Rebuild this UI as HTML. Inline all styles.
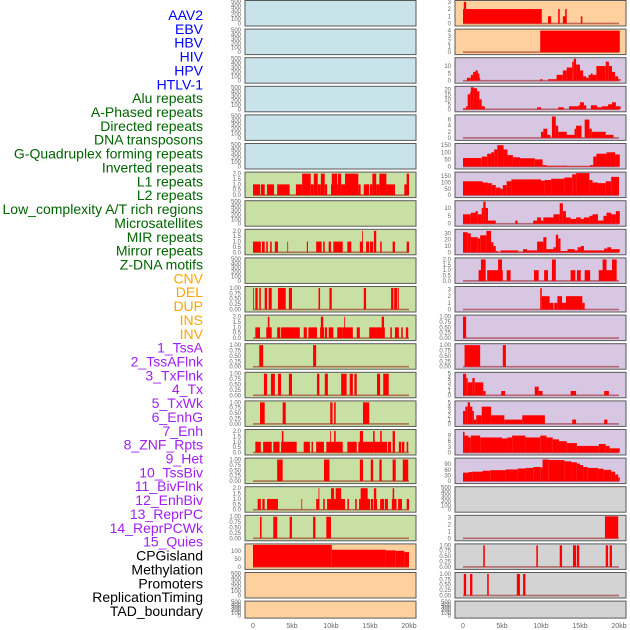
<!DOCTYPE html>
<html><head><meta charset="utf-8"><style>
html,body{margin:0;padding:0;background:#fff;}
svg{display:block;font-family:"Liberation Sans",sans-serif;}
</style></head><body>
<svg id="chart" width="630" height="630" viewBox="0 0 630 630" xmlns="http://www.w3.org/2000/svg"></svg>
<script>
// ---- labels ----
const trackLabels = ["AAV2","EBV","HBV","HIV","HPV","HTLV-1","Alu repeats","A-Phased repeats","Directed repeats","DNA transposons","G-Quadruplex forming repeats","Inverted repeats","L1 repeats","L2 repeats","Low_complexity A/T rich regions","Microsatellites","MIR repeats","Mirror repeats","Z-DNA motifs","CNV","DEL","DUP","INS","INV","1_TssA","2_TssAFlnk","3_TxFlnk","4_Tx","5_TxWk","6_EnhG","7_Enh","8_ZNF_Rpts","9_Het","10_TssBiv","11_BivFlnk","12_EnhBiv","13_ReprPC","14_ReprPCWk","15_Quies","CPGisland","Methylation","Promoters","ReplicationTiming","TAD_boundary"];
const labelGroups = ["v","v","v","v","v","v","r","r","r","r","r","r","r","r","r","r","r","r","r","c","c","c","c","c","s","s","s","s","s","s","s","s","s","s","s","s","s","s","s","o","o","o","o","o"];
const xTickLabels = ["0","5kb","10kb","15kb","20kb"];
const xTickValues = [0,5,10,15,20];

// ---- per-panel y ranges ----
const panelMax = [500,500,500,500,500,500,2.05,500,2.05,500,1.02,2.05,1.02,1.02,1.02,2.05,1.02,2.05,1.02,137,500,500,
 3.05,4.1,15,22,7.2,155,175,14,35,2.05,3.3,1.02,1.02,5.1,5.1,11.7,117,500,3.2,1.02,1.02,500];
const T500=[0,100,200,300,400,500], T2=[0,0.5,1,1.5,2], T1=[0,0.25,0.5,0.75,1];
const panelTicks = [T500,T500,T500,T500,T500,T500,T2,T500,T2,T500,T1,T2,T1,T1,T1,T2,T1,T2,T1,[0,50,100],T500,T500,
 [0,1,2,3],[0,1,2,3,4],[0,5,10],[0,5,10,15,20],[0,2,4,6],[0,50,100,150],[0,50,100,150],[0,5,10],[0,10,20,30],T2,[0,1,2,3],T1,T1,[0,1,2,3,4,5],[0,1,2,3,4,5],[0,3,6,9],[0,30,60,90],T500,[0,1,2,3],T1,T1,T500];

// ---- series: [startKb, endKb, value] ----
const alu = [[0,0.9,1],[1.0,1.5,1],[1.8,2.7,1],[3.1,4.7,1],[5.5,6.3,1],[6.3,7.4,2],[7.4,7.8,1],[7.8,8.3,2],[8.3,8.7,1],[8.7,9.2,2],[9.2,9.5,1],[10.0,10.8,1],[10.1,10.8,2],[10.8,11.3,1],[10.9,11.3,2],[11.3,11.8,1],[11.8,13.5,2],[13.5,13.8,1],[14.2,14.9,1],[15.0,15.3,1],[15.3,15.8,2],[15.8,16.2,1],[16.2,17.1,2],[17.1,18.2,1],[19.4,20.0,1],[19.7,20.0,2]];
const directed = [[0,1.0,1],[1.15,1.5,1],[1.7,1.9,1],[2.2,2.4,1],[2.8,3.2,1],[4.4,4.5,1],[6.9,7.05,1],[8.1,8.8,1],[9.0,9.2,1],[9.7,10.0,1],[10.3,11.5,1],[12.1,12.6,1],[13.7,14.1,1],[14.0,14.1,2],[14.5,14.9,1],[15.0,15.4,1],[15.5,15.8,2],[16.3,16.5,1],[17.9,18.2,1],[19.7,20.0,1]];
const gquad = [[0,0.1,1],[0.3,0.6,1],[0.8,1.0,1],[1.5,1.8,1],[2.0,2.4,1],[3.2,4.2,1],[4.6,5.0,1],[8.4,8.6,1],[9.8,10.1,1],[14.2,14.5,1],[17.7,18.0,1],[18.1,18.5,1],[18.6,18.7,1]];
const inverted = [[0.3,0.9,1],[1.7,2.4,1],[1.9,2.1,2],[3.1,3.5,1],[3.6,6.0,1],[6.5,6.9,1],[7.1,8.2,1],[8.6,9.1,1],[8.7,9.0,2],[9.2,9.5,1],[9.7,10.3,1],[10.8,11.5,1],[11.5,12.8,1],[11.7,11.8,2],[13.3,13.7,1],[14.9,15.9,1],[15.9,16.5,1],[16.5,16.9,1],[16.5,16.8,2],[17.6,17.8,1],[18.2,18.7,1],[19.0,19.2,1],[19.6,19.9,1]];
const l1 = [[0.8,1.3,1],[7.7,8.1,1]];
const l2 = [[1.4,1.8,1],[2.3,2.8,1],[3.2,3.6,1],[4.6,5.0,1],[8.2,8.5,1],[9.2,9.6,1],[11.3,12.0,1],[12.4,12.8,1],[13.0,13.3,1],[15.9,16.3,1],[16.7,17.4,1]];
const lowComplex = [[0.9,1.5,1],[3.8,4.2,1],[9.9,10.2,1],[10.4,10.6,1],[14.1,14.9,1]];
const microsat = [[0.3,1.0,1],[1.3,2.4,1],[2.6,3.4,1],[3.6,5.6,1],[3.7,3.9,2],[6.5,7.3,1],[7.5,7.7,1],[8.1,9.1,1],[9.4,11.5,1],[9.9,10.0,2],[10.4,10.6,2],[12.1,13.3,1],[13.5,15.4,1],[13.7,14.1,2],[15.4,15.6,2],[15.5,17.2,1],[16.3,16.5,2],[17.3,17.7,1],[17.9,18.2,2],[18.7,19.0,1],[19.1,19.4,1],[19.7,19.9,1]];
const mir = [[3.1,3.8,1],[9.1,9.8,1],[13.7,14.1,1],[15.1,15.4,1],[16.2,16.5,1],[17.9,18.3,1],[19.2,19.9,1]];
const mirror = [[0.6,1.0,1],[1.2,1.5,1],[1.8,3.2,1],[6.2,6.3,1],[8.1,8.5,1],[8.4,8.5,2],[9.0,9.2,1],[9.5,11.8,1],[10.0,10.4,2],[10.6,11.3,2],[12.1,12.3,1],[13.1,13.3,1],[13.6,15.0,1],[13.8,14.7,2],[15.1,15.4,1],[15.5,15.9,1],[15.5,15.8,2],[16.3,16.8,1],[16.9,17.3,1],[17.8,18.4,1],[17.9,18.1,2],[18.6,19.1,1],[19.7,20.0,1]];
const zdna = [[0.9,1.1,1],[2.6,3.1,1],[4.7,5.0,1],[7.7,8.0,1],[9.4,10.0,1]];
const cnv = [[0,10.1,137],[10.1,17.0,107],[17.0,18.3,103],[18.3,19.4,100],[19.4,20.0,92]];
const ins = [[0,10.1,2],[0.1,0.4,3],[10.9,11.3,1],[12.2,12.4,2],[12.8,13.2,1],[13.1,13.3,2],[15.1,15.3,1]];
const inv = [[9.9,20.1,4]];
const tssA = [[0.5,1.0,2],[1.0,1.3,4],[1.3,1.6,6],[1.6,1.9,7],[1.9,2.1,5],[2.1,2.2,2],[9.9,10.2,1],[10.9,12.0,1],[12.0,12.8,4],[12.8,13.3,7],[13.3,14.0,9],[14.0,14.2,13],[14.2,14.5,15],[14.5,15.0,11],[15.0,15.4,7],[15.4,15.8,3],[15.8,16.1,2],[16.1,16.4,4],[16.4,16.6,5],[16.6,17.1,4],[17.1,18.3,10],[18.3,18.7,13],[18.7,19.1,10],[19.1,19.5,6],[19.5,19.9,3],[19.9,20.2,1]];
const tssAFlnk = [[0,0.4,1],[0.4,0.6,3],[0.6,0.9,15],[0.9,1.0,17],[1.0,1.4,22],[1.4,1.8,21],[1.8,2.1,18],[2.1,2.4,10],[2.4,2.8,3],[9.5,10.0,2],[12.2,12.9,2],[13.6,14.8,3],[14.8,15.0,4],[15.0,15.5,7],[15.5,15.8,4],[16.4,17.2,4],[17.2,17.8,2],[17.8,18.6,3],[18.6,19.1,5],[19.1,19.6,7],[19.6,20.2,3]];
const txFlnk = [[10.0,10.3,2],[10.3,10.8,3],[10.8,11.2,1],[11.4,11.9,7],[11.9,12.2,4],[12.2,13.3,2],[13.3,14.3,1],[14.3,14.5,3],[14.5,15.2,4],[15.6,16.2,6],[16.2,16.5,3],[16.5,18.3,2],[18.3,19.3,1]];
const tx = [[0,2.3,60],[2.3,2.4,55],[2.4,3.1,70],[3.1,3.6,90],[3.6,4.0,100],[4.0,4.4,120],[4.4,5.2,150],[5.2,5.7,120],[5.7,6.4,80],[6.4,7.3,65],[7.3,9.2,58],[9.2,10.2,50],[10.2,10.7,10],[10.7,13.3,5],[13.3,16.3,3],[16.3,16.7,10],[16.7,17.1,70],[17.1,18.4,90],[18.4,19.5,100],[19.5,20.1,85]];
const txWk = [[0,2.5,110],[2.5,3.2,100],[3.2,3.7,95],[3.7,4.2,80],[4.2,4.8,60],[4.8,5.1,50],[5.1,5.6,80],[5.6,6.2,110],[6.2,10.0,125],[10.0,10.5,115],[10.5,11.3,120],[11.3,13.0,130],[13.0,14.0,140],[14.0,14.5,165],[14.5,16.2,175],[16.2,16.6,120],[16.6,17.3,100],[17.3,18.3,95],[18.3,19.0,110],[19.0,20.0,145]];
const enhG = [[0,1.0,6],[1.0,1.6,7],[1.6,1.9,8],[1.9,2.4,6],[2.4,2.6,10],[2.6,2.9,14],[2.9,3.2,10],[3.2,4.2,2],[6.7,7.0,2],[9.0,9.5,2],[9.5,10.0,4],[10.0,10.3,2],[10.3,11.6,4],[11.6,12.4,6],[12.4,12.8,13],[12.8,13.2,8],[13.2,13.8,4],[13.8,14.5,3],[14.5,15.1,4],[15.1,15.5,3],[15.5,16.2,4],[16.2,16.6,5],[16.6,17.3,6],[17.3,18.0,2],[18.0,18.4,5],[18.4,19.0,7],[19.0,19.6,6],[19.6,20.1,8]];
const enh = [[0,0.6,32],[0.6,1.0,30],[1.0,1.9,24],[1.9,2.2,22],[2.2,3.0,27],[3.0,3.6,34],[3.6,3.9,16],[3.9,4.2,10],[4.2,4.5,2],[4.8,7.1,3],[7.1,7.7,1],[7.7,8.2,5],[8.2,9.5,3],[9.5,10.3,17],[10.3,10.7,24],[10.7,11.6,5],[11.6,11.9,8],[11.9,12.2,28],[12.2,12.5,22],[12.5,13.4,2],[13.4,14.3,5],[14.3,14.7,3],[14.7,15.1,8],[15.1,15.5,10],[15.5,18.1,3],[18.1,18.5,6],[18.5,19.0,8],[19.0,20.1,5]];
const znf = [[2.0,2.9,1],[2.3,2.9,2],[3.1,5.1,1],[4.5,5.0,2],[5.6,6.1,1],[9.1,9.7,1],[10.4,10.9,1],[11.4,11.9,2],[13.8,14.4,1],[14.6,15.1,1],[15.6,16.3,1],[17.4,19.1,1],[17.9,18.4,2],[19.1,19.7,2]];
const het = [[9.9,10.1,3.2],[10.1,11.1,2],[11.1,11.6,1],[11.7,12.1,1],[12.1,12.7,2],[12.7,13.2,1],[13.2,15.3,2],[15.3,15.6,1]];
const tssBiv = [[0,0.4,1]];
const bivFlnk = [[0.2,2.2,1],[5.1,5.5,1]];
const enhBiv = [[0,0.4,5],[0.4,0.6,4],[0.6,1.2,3],[1.2,1.5,4],[1.5,2.6,3],[2.6,2.9,1],[4.9,5.4,1],[9.2,9.7,2],[9.7,10.2,1],[13.8,14.5,1],[18.1,18.7,1]];
const reprPC = [[0,0.3,3],[0.3,0.6,4],[0.6,0.9,5],[0.9,1.2,4],[1.2,1.4,3],[1.4,1.7,1],[1.7,2.4,2],[2.4,3.6,4],[3.6,5.3,2],[5.3,7.6,1],[7.6,10.5,2],[14.0,14.5,1],[18.1,18.5,1]];
const reprPCWk = [[0,0.2,11],[0.2,0.7,9],[0.7,1.0,8],[1.0,2.2,9],[2.2,5.0,8],[5.0,5.7,7.5],[5.7,6.3,8],[6.3,8.0,9],[8.0,9.9,8],[9.9,10.7,9],[10.7,11.5,8],[11.5,12.3,7],[12.3,13.3,6],[13.3,14.6,5],[14.6,17.4,3.5],[17.4,18.3,4.5],[18.3,18.8,3.5],[18.8,20.1,2.2]];
const quies = [[0,0.7,45],[0.7,1.2,48],[1.2,2.5,50],[2.5,3.5,55],[3.5,5.5,58],[5.5,7.0,62],[7.0,8.0,67],[8.0,9.0,70],[9.0,9.9,75],[9.9,10.2,73],[10.2,11.0,115],[11.0,13.0,112],[13.0,13.9,105],[13.9,14.6,100],[14.6,15.0,93],[15.0,15.4,85],[15.4,16.0,75],[16.0,17.3,70],[17.3,18.0,66],[18.0,19.0,60],[19.0,19.5,50],[19.5,19.9,35],[19.9,20.1,20]];
const methylation = [[18.2,19.9,3.2]];
const promoters = [[2.6,2.8,1],[9.4,9.6,1],[12.4,12.7,1],[14.1,14.5,1],[14.6,14.9,1],[18.3,18.6,1],[18.8,19.1,1]];
const repTiming = [[0.1,0.4,1],[0.9,1.2,1],[3.1,3.3,1],[6.9,7.3,1],[7.7,8.0,1]];
const E = null;
const panelSeries = [E,E,E,E,E,E,alu,E,directed,E,gquad,inverted,l1,l2,lowComplex,microsat,mir,mirror,zdna,cnv,E,E,
 ins,inv,tssA,tssAFlnk,txFlnk,tx,txWk,enhG,enh,znf,het,tssBiv,bivFlnk,enhBiv,reprPC,reprPCWk,quies,E,methylation,promoters,repTiming,E];
const panelBgKey = ["b","b","b","b","b","b","g","g","g","g","g","g","g","g","g","g","g","g","g","o","o","o",
 "o","o","p","p","p","p","p","p","p","p","p","p","p","p","p","p","p","k","k","k","k","k"];

const NS="http://www.w3.org/2000/svg";
const svg=document.getElementById('chart');
function mk(tag,attrs,parent){const e=document.createElementNS(NS,tag);for(const k in attrs)e.setAttribute(k,attrs[k]);(parent||svg).appendChild(e);return e;}
const bgColors={b:"#c9e3eb",g:"#c8e0a4",o:"#fed09e",p:"#d7c7e2",k:"#d3d3d3"};
const labelColors={v:"#0000ff",r:"#006400",c:"#ffa500",s:"#a020f0",o:"#000000"};
function fmt(v,ticks){const m=Math.max(...ticks);if(m===1)return v.toFixed(2);if(m===2)return v.toFixed(1);return String(v);}

// labels
trackLabels.forEach((t,i)=>{
  const el=mk('text',{x:203,y:15+i*13.86+5,'text-anchor':'end','font-size':14,fill:labelColors[labelGroups[i]]});
  el.textContent=t;
  
  
});

// panels
for(let i=0;i<44;i++){
  const col=i<22?0:1, row=i%22;
  const x0=col?455:245, w=171;
  const top=row*28.6+0.5, h=row===21?17:25.5;
  const g=mk('g',{});
  
  
  const r=mk('rect',{x:x0,y:top,width:w,height:h,fill:bgColors[panelBgKey[i]],stroke:"#5a5a5a",'stroke-width':1},g);
  
  
  const mx=panelMax[i], y0=top+h-2.5, yT=top+1;
  const ys=v=>y0-(v/mx)*(y0-yT);
  const xs=kb=>(col?463:253)+kb*7.8;
  panelTicks[i].forEach(v=>{
    const tl=mk('text',{x:col?451:241,y:ys(v)+2,'text-anchor':'end','font-size':6,fill:"#666"},g);
    tl.textContent=fmt(v,panelTicks[i]);
    
    
  });
  const s=panelSeries[i];
  if(s){
    const bl=mk('rect',{x:xs(0),y:y0-0.8,width:xs(20)-xs(0),height:1.6,fill:"rgba(150,20,20,0.55)"},g);
    
    
    s.forEach(d=>{
      const b=mk('rect',{x:xs(d[0]),y:ys(d[2]),width:Math.max(0.8,xs(d[1])-xs(d[0])),height:y0-ys(d[2]),fill:"#ff0000"},g);
      
      
    });
  }
}
// x axes
[0,1].forEach(col=>{
  xTickValues.forEach((v,j)=>{
    const t=mk('text',{x:(col?463:253)+v*7.8,y:628,'text-anchor':'middle','font-size':7,fill:"#666"});
    t.textContent=xTickLabels[j];
    
    
  });
});
</script>
</body></html>
